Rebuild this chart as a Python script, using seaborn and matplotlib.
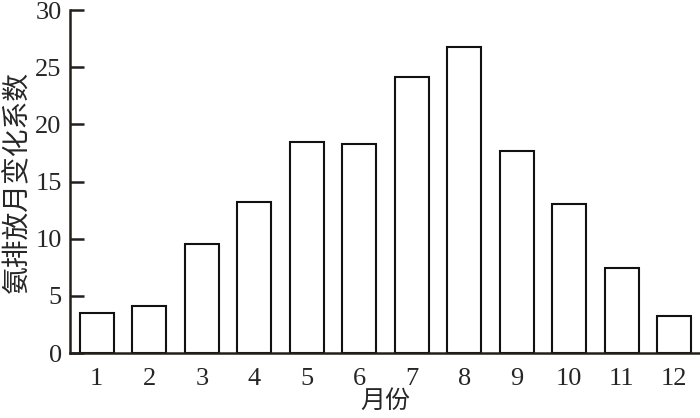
import matplotlib
matplotlib.use("Agg")
import matplotlib.pyplot as plt
import seaborn as sns
import pandas as pd

months = ["1", "2", "3", "4", "5", "6", "7", "8", "9", "10", "11", "12"]
values = [3.5, 4.1, 9.5, 13.2, 18.5, 18.3, 24.1, 26.8, 17.7, 13.0, 7.4, 3.2]
y_ticks = [0, 5, 10, 15, 20, 25, 30]
x_label = "月份"
y_label = "氨排放月变化系数"

sns.set_theme(style="ticks")
plt.rcParams["font.family"] = ["Liberation Serif", "Noto Sans CJK SC"]

df = pd.DataFrame({"month": months, "value": values})

fig = plt.figure(figsize=(7, 4.18), dpi=100)
ax = fig.add_axes([0.1, 0.1555, 0.9, 0.8205])
sns.barplot(data=df, x="month", y="value", color="white", edgecolor="#111111",
            linewidth=1.5, width=0.65, saturation=1, ax=ax)

ax.set_ylim(0, 30)
ax.set_xlim(-0.51, 11.49)
ax.set_yticks(y_ticks)
ax.tick_params(axis="y", direction="in", length=10, width=1.8, labelsize=19,
               color="#231f1a", pad=6)
ax.tick_params(axis="x", length=0, labelsize=19, pad=11)
for s in ["top", "right"]:
    ax.spines[s].set_visible(False)
for s in ["left", "bottom"]:
    ax.spines[s].set_linewidth(1.8)
    ax.spines[s].set_color("#231f1a")
ax.set_xlabel(x_label, fontsize=18, family=["Noto Sans CJK SC"], labelpad=-2)
ax.set_ylabel(y_label, fontsize=20, family=["Noto Sans CJK SC"], labelpad=2)

fig.savefig("out.png", dpi=100)
